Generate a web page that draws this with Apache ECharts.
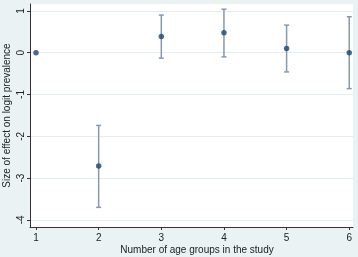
<!DOCTYPE html>
<html>
<head>
<meta charset="utf-8">
<script src="https://cdn.jsdelivr.net/npm/echarts@6/dist/echarts.min.js"></script>
<style>
  html, body { margin: 0; padding: 0; background: #eaf2f3; }
  #chart { width: 358px; height: 257px; }
</style>
</head>
<body>
<div id="chart"></div>
<script>
// number of age groups in the study
var groups = [1, 2, 3, 4, 5, 6]
// effect on logit prevalence, with lower / upper bounds
var effect = [0, -2.71, 0.39, 0.48, 0.10, 0.0]
var lower = [0, -3.70, -0.13, -0.10, -0.46, -0.86]
var upper = [0, -1.74, 0.90, 1.04, 0.66, 0.86]
var xTicks = [1, 2, 3, 4, 5, 6]
var yTicks = [-4, -3, -2, -1, 0, 1]

var textColor = '#222'
var fontFamily = 'Liberation Sans, Arial, sans-serif'

var points = groups.map(function (g, i) { return [g, effect[i]] })
var bars = groups.slice(1).map(function (g, i) { return [g, lower[i + 1], upper[i + 1]] })

var chart = echarts.init(document.getElementById('chart'), null, { renderer: 'canvas' })
chart.setOption({
  backgroundColor: '#eaf2f3',
  animation: false,
  grid: {
    left: 30, top: 4, right: 5, bottom: 30,
    containLabel: false,
    outerBoundsMode: 'none',
    show: true, backgroundColor: '#fff', borderWidth: 0
  },
  xAxis: {
    type: 'value',
    min: 0.904,
    max: 6.06,
    name: 'Number of age groups in the study',
    nameLocation: 'middle',
    nameGap: 18,
    nameMoveOverlap: false,
    nameTextStyle: { color: textColor, fontSize: 10, fontFamily: fontFamily, padding: [0, 0, 0, 11] },
    axisLine: { show: true, onZero: false, lineStyle: { color: '#333', width: 1 } },
    axisTick: { show: true, length: 3, customValues: xTicks, lineStyle: { color: '#333' } },
    axisLabel: { customValues: xTicks, color: textColor, fontSize: 10, fontFamily: fontFamily, margin: 6 },
    splitLine: { show: false }
  },
  yAxis: {
    type: 'value',
    min: -4.17,
    max: 1.165,
    name: 'Size of effect on logit prevalence',
    nameLocation: 'middle',
    nameRotate: 90,
    nameGap: 18,
    nameMoveOverlap: false,
    nameTextStyle: { color: textColor, fontSize: 10, fontFamily: fontFamily },
    axisLine: { show: true, onZero: false, lineStyle: { color: '#333', width: 1 } },
    axisTick: { show: true, length: 3, customValues: yTicks, lineStyle: { color: '#333' } },
    axisLabel: { customValues: yTicks, rotate: 90, color: textColor, fontSize: 10, fontFamily: fontFamily, margin: 4 },
    splitLine: { show: true, lineStyle: { color: '#e4eef0', width: 1 } }
  },
  series: [
    {
      type: 'custom',
      renderItem: function (params, api) {
        var x = api.value(0)
        var lo = api.coord([x, api.value(1)])
        var hi = api.coord([x, api.value(2)])
        var w = 2.5
        var style = { stroke: '#8599b2', lineWidth: 1.5 }
        return {
          type: 'group',
          children: [
            { type: 'line', shape: { x1: lo[0], y1: lo[1], x2: hi[0], y2: hi[1] }, style: style },
            { type: 'line', shape: { x1: lo[0] - w, y1: lo[1], x2: lo[0] + w, y2: lo[1] }, style: style },
            { type: 'line', shape: { x1: hi[0] - w, y1: hi[1], x2: hi[0] + w, y2: hi[1] }, style: style }
          ]
        }
      },
      encode: { x: 0, y: [1, 2] },
      data: bars,
      z: 2
    },
    {
      type: 'scatter',
      symbol: 'circle',
      symbolSize: 5.5,
      itemStyle: { color: '#1a476f' },
      data: points,
      z: 3
    }
  ]
})
</script>
</body>
</html>
